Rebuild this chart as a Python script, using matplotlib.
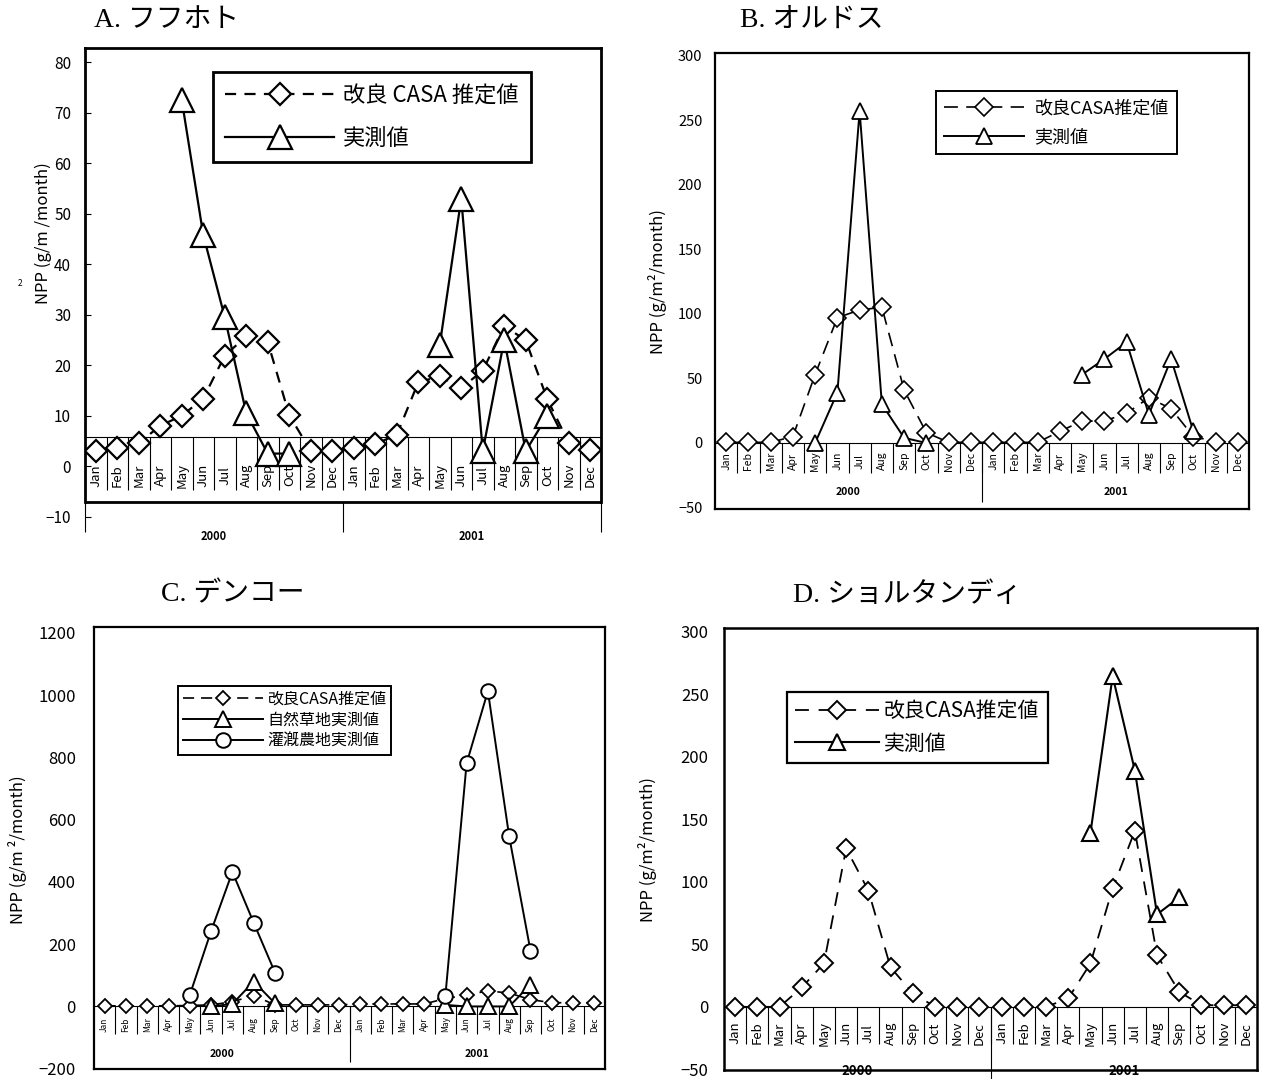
import numpy as np
import matplotlib
matplotlib.use('Agg')
import matplotlib.pyplot as plt

plt.rcParams['font.family'] = ['Noto Sans CJK JP', 'DejaVu Sans']
plt.rcParams['lines.scale_dashes'] = False

nan = np.nan
months = ['Jan', 'Feb', 'Mar', 'Apr', 'May', 'Jun', 'Jul', 'Aug', 'Sep', 'Oct', 'Nov', 'Dec']
month_labels = months * 2
years = ['2000', '2001']
x = np.arange(1, 25)

# A. フフホト
a_casa = [3.0, 3.6, 4.6, 8.0, 10.0, 13.4, 21.9, 25.7, 24.6, 10.1, 3.0, 3.0,
          3.6, 4.4, 6.2, 16.6, 17.8, 15.5, 18.9, 27.8, 24.9, 13.3, 4.6, 3.3]
a_obs = [nan, nan, nan, nan, 72.5, 45.8, 29.5, 10.5, 2.5, 2.5, nan, nan,
         nan, nan, nan, nan, 24.0, 53.0, 3.0, 25.0, 3.0, 10.0, nan, nan]

# B. オルドス
b_casa = [0.5, 0.5, 0.5, 5, 53, 97, 103, 105, 41, 8, 0.5, 0.5,
          0.5, 0.5, 0.5, 9, 17, 17, 23, 35, 26.5, 5, 1, 1]
b_obs = [nan, nan, nan, nan, 0, 39, 257, 30, 4, 0, nan, nan,
         nan, nan, nan, nan, 53, 65, 78, 22, 65, 9, nan, nan]

# C. デンコー
c_casa = [2, 2, 2, 2, 3, 5, 15, 35, 5, 5, 5, 5,
          8, 8, 8, 8, 25, 37, 50, 43, 22, 12, 12, 12]
c_grass = [nan, nan, nan, nan, nan, 0, 8, 80, 10, nan, nan, nan,
           nan, nan, nan, nan, 5, 0, 0, 0, 70, nan, nan, nan]
c_farm = [nan, nan, nan, nan, 37, 242, 432, 269, 109, nan, nan, nan,
          nan, nan, nan, nan, 32, 781, 1013, 546, 179, nan, nan, nan]

# D. ショルタンディ
d_casa = [0, 0, 0, 15.5, 34.7, 126.7, 93, 31.5, 11, 0, 0, 0,
          0, 0, 0, 6.7, 34.7, 94.7, 140.8, 41.3, 12, 1.3, 1.3, 1.3]
d_obs = [nan, nan, nan, nan, nan, nan, nan, nan, nan, nan, nan, nan,
         nan, nan, nan, nan, 139, 264.5, 189, 74, 87.5, nan, nan, nan]

W, H = 1262, 1079
fig = plt.figure(figsize=(W / 100, H / 100), dpi=100)
title_font = ['Liberation Serif', 'Noto Sans CJK JP']


def rect(l, t, r, b):
    return [l / W, 1 - b / H, (r - l) / W, (b - t) / H]


def fig_xy(px, py):
    return px / W, 1 - py / H


def month_axis(ax, y0, sep_bot, lab_y, lab_fs, year_y, year_fs, ysep_top, ysep_bot, lw=0.8):
    ax.axhline(y0, color='k', lw=lw, zorder=1)
    ax.vlines(np.arange(1.5, 24), sep_bot, y0, color='k', lw=lw, zorder=1)
    ax.vlines(12.5, ysep_bot, ysep_top, color='k', lw=lw, zorder=1, clip_on=False)
    for i, m in enumerate(month_labels):
        ax.text(x[i], lab_y, m, rotation=90, ha='center', va='center', fontsize=lab_fs)
    for xc, yr in zip([6.5, 18.5], years):
        ax.text(xc, year_y, yr, ha='center', va='center', fontsize=year_fs,
                fontweight='bold', clip_on=False)
    ax.set_xlim(0.5, 24.5)
    ax.set_xticks([])


def style_frame(ax, lw):
    for s in ax.spines.values():
        s.set_linewidth(lw)


def add_legend(ax, px, py, fs, hl, htp, ls, bp, lw):
    leg = ax.legend(loc='upper left', bbox_to_anchor=fig_xy(px, py), bbox_transform=fig.transFigure,
                    borderaxespad=0, fancybox=False, edgecolor='black', framealpha=1,
                    fontsize=fs, handlelength=hl, handletextpad=htp, labelspacing=ls,
                    borderpad=bp, numpoints=1)
    leg.get_frame().set_linewidth(lw)


# ---------- A ----------
ax = fig.add_axes(rect(85, 48, 601, 545))
ax.set_ylim(-15.6, 82.8)
ax.plot(x, a_casa, color='k', lw=1.6, ls=(0, (8, 6)), marker='D', ms=11,
        mfc='white', mec='k', mew=1.6, label='改良 CASA 推定値', zorder=3)
ax.plot(x, a_obs, color='k', lw=1.6, marker='^', ms=17,
        mfc='white', mec='k', mew=1.6, label='実測値', zorder=4)
style_frame(ax, 2.0)
ax.spines['bottom'].set_visible(False)
ax.spines['left'].set_bounds(-7, 82.8)
ax.spines['right'].set_bounds(-7, 82.8)
ax.axhline(-7, color='k', lw=2.0)
ax.vlines([0.5, 24.5], -13.1, -7, color='k', lw=0.8, clip_on=False)
month_axis(ax, 5.8, -4.75, -1.8, 9.5, -14, 8, -7, -13.1)
ax.set_yticks(np.arange(-10, 81, 10))
ax.tick_params(axis='y', direction='in', length=4, pad=10, labelsize=11)
add_legend(ax, 213, 72, 16, 4.9, 0.4, 0.9, 0.55, 2.0)
fig.text(*fig_xy(43, 233), 'NPP (g/m /month)', rotation=90, ha='center', va='center', fontsize=12)
fig.text(*fig_xy(20, 283), '2', ha='center', va='center', fontsize=6)
fig.text(*fig_xy(166, 20), 'A. フフホト', ha='center', va='center', fontsize=20, family=title_font)

# ---------- B ----------
ax = fig.add_axes(rect(715, 53, 1249, 509))
ax.set_ylim(-51.1, 301.9)
ax.plot(x, b_casa, color='k', lw=1.2, ls=(0, (10, 6)), marker='D', ms=9.5,
        mfc='white', mec='k', mew=1.2, label='改良CASA推定値', zorder=3)
ax.plot(x, b_obs, color='k', lw=1.4, marker='^', ms=12,
        mfc='white', mec='k', mew=1.3, label='実測値', zorder=4)
style_frame(ax, 1.6)
month_axis(ax, 0, -23, -14, 7.5, -38, 7.5, 0, -45.6)
ax.set_yticks(np.arange(-50, 301, 50))
ax.tick_params(axis='y', length=0, pad=9, labelsize=10.5)
add_legend(ax, 936, 91, 13, 4.4, 0.6, 0.6, 0.45, 1.4)
fig.text(*fig_xy(658, 282), 'NPP (g/m²/month)', rotation=90, ha='center', va='center', fontsize=12)
fig.text(*fig_xy(812, 20), 'B. オルドス', ha='center', va='center', fontsize=20, family=title_font)

# ---------- C ----------
ax = fig.add_axes(rect(94, 627, 605, 1069))
ax.set_ylim(-201, 1219)
ax.plot(x, c_casa, color='k', lw=1.2, ls=(0, (8, 5)), marker='D', ms=7,
        mfc='white', mec='k', mew=1.3, label='改良CASA推定値', zorder=3)
ax.plot(x, c_grass, color='k', lw=1.4, marker='^', ms=12,
        mfc='white', mec='k', mew=1.4, label='自然草地実測値', zorder=4)
ax.plot(x, c_farm, color='k', lw=1.4, marker='o', ms=10.5,
        mfc='white', mec='k', mew=1.4, label='灌漑農地実測値', zorder=5)
style_frame(ax, 1.6)
month_axis(ax, 0, -90, -58, 6, -154, 7.5, 0, -180)
ax.set_yticks(np.arange(-200, 1201, 200))
ax.tick_params(axis='y', length=0, pad=13, labelsize=12)
add_legend(ax, 178, 686, 11.5, 5.0, 0.3, 0.25, 0.3, 1.4)
fig.text(*fig_xy(18, 850), 'NPP (g/m ²/month)', rotation=90, ha='center', va='center', fontsize=12)
fig.text(*fig_xy(233, 595), 'C. デンコー', ha='center', va='center', fontsize=20, family=title_font)

# ---------- D ----------
ax = fig.add_axes(rect(724, 628, 1257, 1070))
ax.set_ylim(-50.5, 303)
ax.plot(x, d_casa, color='k', lw=1.3, ls=(0, (10, 7)), marker='D', ms=9,
        mfc='white', mec='k', mew=1.4, label='改良CASA推定値', zorder=3)
ax.plot(x, d_obs, color='k', lw=1.5, marker='^', ms=11,
        mfc='white', mec='k', mew=1.5, label='実測値', zorder=4)
style_frame(ax, 1.8)
month_axis(ax, 0, -30, -21, 9.5, -51, 9.5, 0, -58)
ax.set_yticks(np.arange(-50, 301, 50))
ax.tick_params(axis='y', length=0, pad=11, labelsize=12)
add_legend(ax, 787, 692, 15, 4.0, 0.25, 0.5, 0.4, 1.6)
fig.text(*fig_xy(648, 850), 'NPP (g/m²/month)', rotation=90, ha='center', va='center', fontsize=12)
fig.text(*fig_xy(907, 595), 'D. ショルタンディ', ha='center', va='center', fontsize=20, family=title_font)

fig.savefig('out.png', dpi=100)
